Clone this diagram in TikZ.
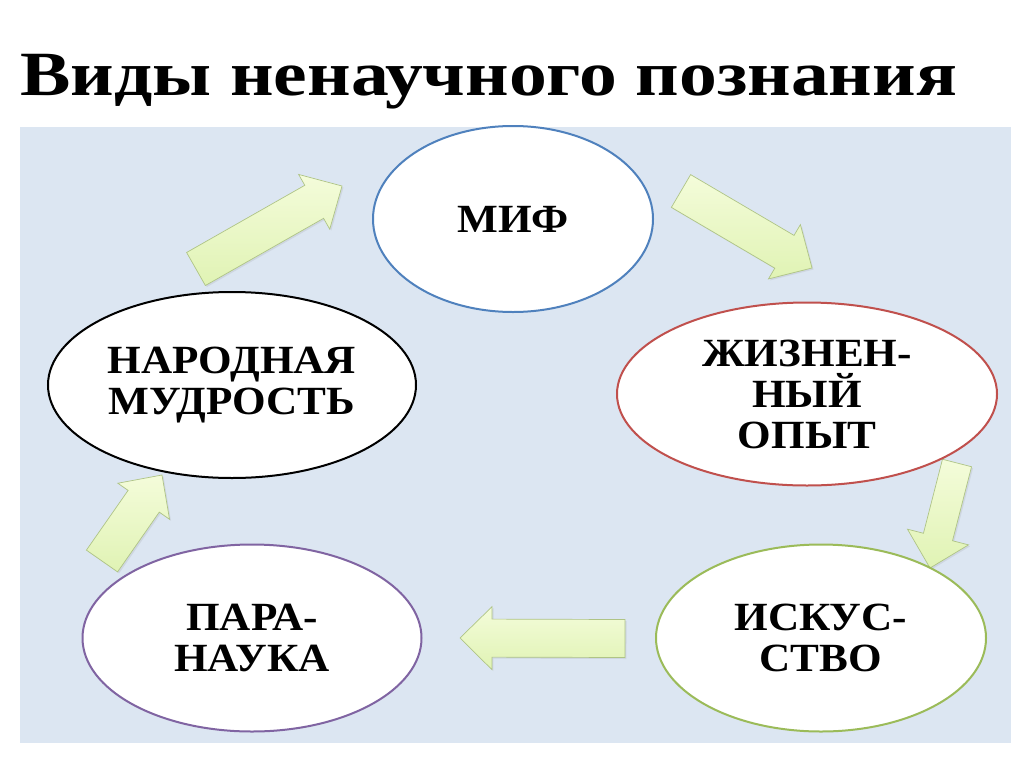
\documentclass[tikz,border=0pt]{standalone}
\usepackage{fontspec}
\setmainfont{Liberation Serif}
\newfontfamily\titlefont[FakeStretch=1.2]{Liberation Serif}
\newfontfamily\kindfont[FakeStretch=1.08]{Liberation Serif}
\usepackage{tikz}
\usetikzlibrary{shapes.geometric}
\usetikzlibrary{calc}
\usetikzlibrary{shadows}
\definecolor{panel}{HTML}{DCE6F2}
\definecolor{mifline}{HTML}{4F81BD}
\definecolor{zhiznline}{HTML}{C0504D}
\definecolor{iskusline}{HTML}{9BBB59}
\definecolor{paraline}{HTML}{8064A2}
\definecolor{arrowline}{HTML}{AFC486}
\definecolor{arrowlight}{HTML}{F4FCDA}
\definecolor{arrowgreen}{HTML}{E0F3B4}
\tikzstyle{kind}=[ellipse, draw, fill=white, line width=2pt, inner sep=0pt, align=center, font=\kindfont\bfseries\fontsize{40}{41}\selectfont]
\tikzstyle{greenarrow}=[draw=arrowline, line width=0.7pt, top color=arrowlight, bottom color=arrowgreen, drop shadow={opacity=0.15, shadow xshift=1.5pt, shadow yshift=-1.5pt}]
% block arrow from tail #2 to tip #3, #1 = half width of the shaft
\newcommand{\blockarrow}[3][19pt]{%
  \coordinate (#2neck) at ($(#3)!32pt!(#2)$);
  \draw[greenarrow] ($(#2)!#1!90:(#3)$) -- ($(#2neck)!#1!90:(#3)$) -- ($(#2neck)!31.5pt!90:(#3)$)
    -- (#3) -- ($(#2neck)!31.5pt!-90:(#3)$) -- ($(#2neck)!#1!-90:(#3)$) -- ($(#2)!#1!-90:(#3)$) -- cycle;
}

\begin{document}
\begin{tikzpicture}[x=1pt, y=-1pt]
        \useasboundingbox[fill=white] (0,0) rectangle (1024,768);
        \node[anchor=base west, inner sep=0pt, font=\titlefont\bfseries\fontsize{63}{63}\selectfont] (title) at (20,95) {Виды ненаучного познания};
        \fill[panel] (20,127) rectangle (1011,743);

        \coordinate (a1) at (196,269);  \coordinate (b1) at (342,186);
        \coordinate (a2) at (681,191);  \coordinate (b2) at (812,268);
        \coordinate (a3) at (957,463);  \coordinate (b3) at (930,568);
        \coordinate (a4) at (625,638.5);\coordinate (b4) at (460,638);
        \coordinate (a5) at (102,561);  \coordinate (b5) at (162,475);
        \blockarrow{a1}{b1}
        \blockarrow{a2}{b2}
        \blockarrow[15pt]{a3}{b3}
        \blockarrow{a4}{b4}
        \blockarrow{a5}{b5}

        \node[kind, draw=mifline, minimum width=280, minimum height=186]   (mif) at (513,219) {МИФ};
        \node[kind, draw=black, minimum width=368, minimum height=186]     (narod) at (232,385) {НАРОДНАЯ\\МУДРОСТЬ};
        \node[kind, draw=zhiznline, minimum width=380, minimum height=183] (zhizn) at (807,394) {ЖИЗНЕН-\\НЫЙ\\ОПЫТ};
        \node[kind, draw=iskusline, minimum width=330, minimum height=187] (iskus) at (821,638) {ИСКУС-\\СТВО};
        \node[kind, draw=paraline, minimum width=339, minimum height=187]  (para) at (252,638) {ПАРА-\\НАУКА};
    \end{tikzpicture}
\end{document}
